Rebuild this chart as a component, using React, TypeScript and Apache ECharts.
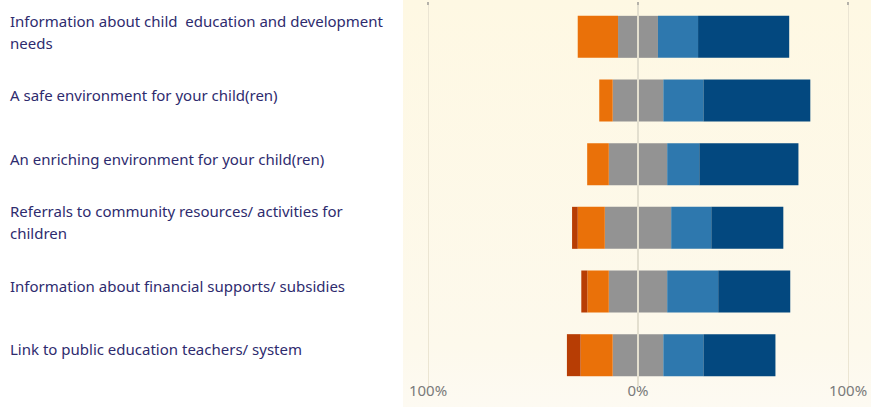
import React, { useEffect, useRef } from "react";
import * as echarts from "echarts";

const categories = [
  "Information about child  education and development needs",
  "A safe environment for your child(ren)",
  "An enriching environment for your child(ren)",
  "Referrals to community resources/ activities for children",
  "Information about financial supports/ subsidies",
  "Link to public education teachers/ system",
];

const stronglyDisagree = [0, 0, 0, 2.7, 2.9, 6.5];
const disagree = [19.2, 6.4, 10.3, 12.9, 10.2, 15.3];
const neutral = [19.0, 24.1, 27.8, 31.6, 27.8, 24.1];
const agree = [19.1, 19.1, 15.3, 19.1, 24.3, 19.1];
const stronglyAgree = [43.4, 50.9, 47.2, 34.3, 34.3, 34.3];

const axisTicks = [-100, 0, 100];

const COLORS = {
  strongNeg: "#b73d04",
  neg: "#ea7109",
  neutral: "#939393",
  pos: "#2e78ae",
  strongPos: "#03487f",
};

export default function App() {
  const ref = useRef<HTMLDivElement>(null);

  useEffect(() => {
    if (!ref.current) return;
    const chart = echarts.init(ref.current, null, { renderer: "svg" });

    const base = {
      type: "bar",
      stack: "total",
      barWidth: 42,
      silent: true,
      xAxisIndex: 0,
      yAxisIndex: 0,
    };

    const option: any = {
      animation: false,
      backgroundColor: "#ffffff",
      graphic: [
        {
          type: "rect",
          left: 403,
          top: 0,
          shape: { width: 468, height: 407 },
          style: {
            fill: new echarts.graphic.LinearGradient(0, 0, 0, 1, [
              { offset: 0, color: "#fef8e3" },
              { offset: 0.85, color: "#fdf9ec" },
              { offset: 1, color: "#fdfaf2" },
            ]),
          },
          z: -10,
          silent: true,
        },
      ],
      grid: [
        { left: 428, right: 23, top: 5, bottom: 20, containLabel: false },
        { left: 428, right: 23, top: -1, bottom: 26, containLabel: false },
      ],
      xAxis: [
        {
          type: "value",
          gridIndex: 0,
          min: -100,
          max: 100,
          interval: 100,
          axisLine: { show: false },
          axisTick: { show: false },
          splitLine: { show: true, lineStyle: { color: "#ebe5d3", width: 1 } },
          axisLabel: { show: false },
        },
        {
          type: "value",
          gridIndex: 0,
          position: "top",
          min: -100,
          max: 100,
          interval: 100,
          axisLine: { show: false },
          axisLabel: { show: false },
          splitLine: { show: false },
          axisTick: { show: true, length: 3, lineStyle: { color: "#b5b2aa", width: 2 } },
        },
        {
          type: "value",
          gridIndex: 1,
          min: -100,
          max: 100,
          interval: 100,
          axisLine: { show: false },
          axisTick: { show: false },
          splitLine: { show: false },
          axisLabel: {
            color: "#7a7a7a",
            fontSize: 15,
            fontFamily: "Noto Sans",
            margin: 1,
            formatter: (v: number) => Math.abs(v) + "%",
            customValues: axisTicks,
          },
        },
      ],
      yAxis: [
        {
          type: "category",
          gridIndex: 0,
          data: categories,
          inverse: true,
          axisLine: { show: false },
          axisTick: { show: false },
          splitLine: { show: false },
          axisLabel: { show: false },
        },
        {
          type: "category",
          gridIndex: 1,
          data: categories,
          inverse: true,
          axisLine: { show: false },
          axisTick: { show: false },
          splitLine: { show: false },
          axisLabel: {
            align: "left",
            margin: 418,
            width: 378,
            overflow: "break",
            color: "#2e2b6e",
            fontSize: 15,
            lineHeight: 22,
            fontFamily: "Noto Sans",
          },
        },
      ],
      series: [
        { ...base, name: "Neutral-", data: neutral.map((v) => -v / 2), itemStyle: { color: COLORS.neutral } },
        { ...base, name: "Disagree", data: disagree.map((v) => -v), itemStyle: { color: COLORS.neg } },
        { ...base, name: "Strongly disagree", data: stronglyDisagree.map((v) => -v), itemStyle: { color: COLORS.strongNeg } },
        { ...base, name: "Neutral+", data: neutral.map((v) => v / 2), itemStyle: { color: COLORS.neutral } },
        { ...base, name: "Agree", data: agree, itemStyle: { color: COLORS.pos } },
        {
          ...base,
          name: "Strongly agree",
          data: stronglyAgree,
          itemStyle: { color: COLORS.strongPos },
          z: 5,
          markLine: {
            silent: true,
            symbol: "none",
            label: { show: false },
            lineStyle: { color: "#e3dfcf", width: 2, type: "solid" },
            data: [{ xAxis: 0 }],
          },
        },
        {
          type: "bar",
          name: "labels",
          xAxisIndex: 2,
          yAxisIndex: 1,
          data: categories.map(() => null),
          silent: true,
        },
      ],
    };

    chart.setOption(option);
    return () => chart.dispose();
  }, []);

  return (
    <div
      ref={ref}
      style={{ position: "absolute", left: 0, top: 0, width: 871, height: 407 }}
    />
  );
}
